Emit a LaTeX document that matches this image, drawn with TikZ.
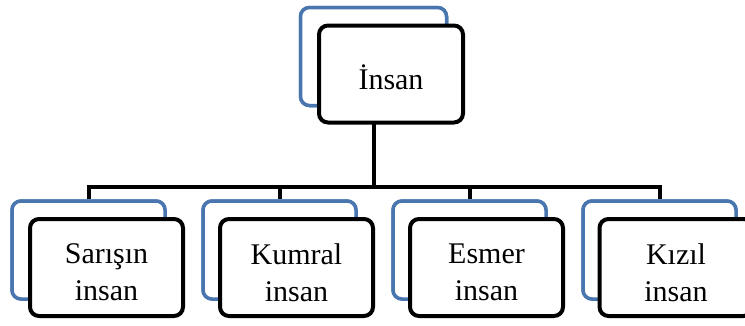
\documentclass[tikz,border=0pt]{standalone}
\usepackage{fontspec}
\setmainfont{Liberation Serif}
\definecolor{boxblue}{HTML}{4A76B0}
\begin{document}
\begin{tikzpicture}[x=1pt,y=-1pt,
  backbox/.style={draw=boxblue,line width=3.5pt,fill=white,rounded corners=9pt,
    minimum width=153pt,minimum height=98pt,inner sep=0pt},
  topback/.style={backbox,minimum width=146pt},
  frontbox/.style={draw=black,line width=4pt,fill=white,rounded corners=9pt,
    minimum width=153pt,minimum height=97pt,inner sep=0pt},
  topfront/.style={frontbox,minimum width=144pt},
  boxtext/.style={align=center,inner sep=0pt,font=\fontsize{30pt}{37pt}\selectfont},
  conn/.style={draw=black,line width=4pt}]
\useasboundingbox (0,0) rectangle (745,325);
% back (blue) boxes
\node[topback] (tb) at (373.5,56.5) {};
\coordinate (bar) at (0,187);
\node[backbox] (b1) at (88.5,250) {};
\node[backbox] (b2) at (279.5,250) {};
\node[backbox] (b3) at (469.5,250) {};
\node[backbox] (b4) at (659.5,250) {};
% connectors
\path[conn] (tb.center) -- (tb.center |- bar);
\path[conn,line cap=rect] (b1.center |- bar) -- (b4.center |- bar);
\foreach \i in {1,2,3,4} {\path[conn] (b\i.center |- bar) -- (b\i.north);}
% redraw blue boxes above their drop lines
\node[topback] at (tb) {};
\foreach \i in {1,2,3,4} {\node[backbox] at (b\i) {};}
% front (black) boxes
\node[topfront] (tf) at (391,74) {};
\node[frontbox] (f1) at (106.5,267.5) {};
\node[frontbox] (f2) at (296.5,267.5) {};
\node[frontbox] (f3) at (486.5,267.5) {};
\node[frontbox] (f4) at (676,267.5) {};
% texts
\node[boxtext] (t0) at ([yshift=-3pt]tf.center) {İnsan};
\node[boxtext] (t1) at ([yshift=-5pt]f1.center) {Sarışın\\insan};
\node[boxtext] (t2) at ([yshift=-5pt]f2.center) {Kumral\\insan};
\node[boxtext] (t3) at ([yshift=-5pt]f3.center) {Esmer\\insan};
\node[boxtext] (t4) at ([yshift=-5pt]f4.center) {Kızıl\\insan};
% visible part of main connector
\path[conn] (tb.center |- tf.south) -- (tb.center |- bar);
\end{tikzpicture}
\end{document}
